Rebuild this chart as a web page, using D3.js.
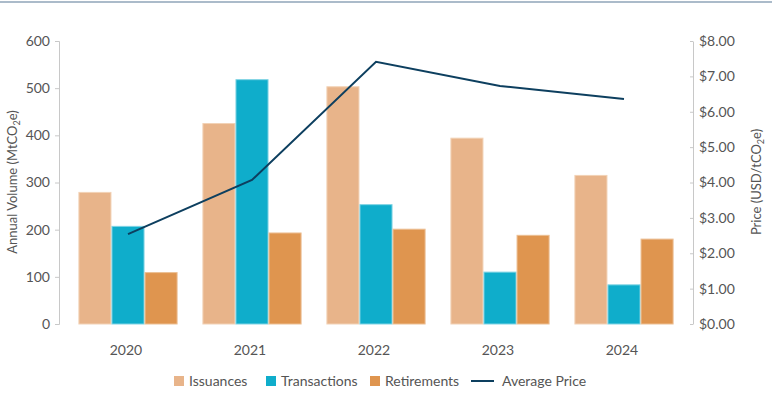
<!DOCTYPE html>
<html>
<head>
<meta charset="utf-8">
<script src="https://cdn.jsdelivr.net/npm/d3@7"></script>
<style>
  body { margin: 0; background: #fff; }
  text { font-family: "Lato", "Open Sans", sans-serif; fill: #555; }
</style>
</head>
<body>
<script>
// data
var years = ["2020", "2021", "2022", "2023", "2024"];
var issuances = [279, 425, 503, 394, 315];
var transactions = [207, 518, 253, 110, 83];
var retirements = [109, 193, 201, 188, 180];
var avgPrice = [2.54, 4.07, 7.41, 6.73, 6.36];

var volumeTicks = [0, 100, 200, 300, 400, 500, 600];
var priceTicks = [0, 1, 2, 3, 4, 5, 6, 7, 8];

var seriesNames = ["Issuances", "Transactions", "Retirements"];
var seriesColors = ["#e8b48a", "#0fadcb", "#df954f"];
var seriesStroke = ["#f2d2b6", "#7fd3e4", "#ecbf94"];
var lineColor = "#0d3f5f";

var W = 772, H = 405;

var svg = d3.select("body").append("svg")
    .attr("width", W)
    .attr("height", H);

// top rule
svg.append("line")
    .attr("x1", 0).attr("x2", W)
    .attr("y1", 2).attr("y2", 2)
    .attr("stroke", "#8fa5b8").attr("stroke-width", 1.5);

var x0 = d3.scaleBand().domain(years).range([66, 686]).paddingInner(0.2).paddingOuter(0.1);
var x1 = d3.scaleBand().domain(seriesNames).range([0, x0.bandwidth()]);
var yL = d3.scaleLinear().domain([0, 600]).range([324, 41]);
var yR = d3.scaleLinear().domain([0, 8]).range([324, 41]);

// left axis
var axL = svg.append("g")
    .attr("transform", "translate(59,0)")
    .call(d3.axisLeft(yL).tickValues(volumeTicks).tickSize(4).tickPadding(5));
axL.selectAll("path, line").attr("stroke", "#c8c8c8");
axL.selectAll("text").style("font-size", "14px").attr("fill", "#555");

// right axis
var axR = svg.append("g")
    .attr("transform", "translate(693,0)")
    .call(d3.axisRight(yR).tickValues(priceTicks).tickFormat(d3.format("$.2f")).tickSize(0).tickPadding(6));
axR.selectAll("path").attr("stroke", "#c8c8c8");
axR.selectAll(".tick").append("line")
    .attr("x1", -3).attr("x2", 0).attr("stroke", "#c8c8c8");
axR.selectAll("text").style("font-size", "14px").attr("fill", "#555");

// bars
var table = years.map(function(y, i) {
    return { year: y, values: [issuances[i], transactions[i], retirements[i]] };
});

var groups = svg.selectAll("g.grp")
    .data(table)
    .enter().append("g")
    .attr("class", "grp")
    .attr("transform", function(d) { return "translate(" + x0(d.year) + ",0)"; });

groups.selectAll("rect")
    .data(function(d) { return d.values.map(function(v, k) { return { k: k, v: v }; }); })
    .enter().append("rect")
    .attr("x", function(d) { return x1(seriesNames[d.k]) + 0.5; })
    .attr("y", function(d) { return yL(d.v); })
    .attr("width", x1.bandwidth() - 1)
    .attr("height", function(d) { return yL(0) - yL(d.v); })
    .attr("fill", function(d) { return seriesColors[d.k]; })
    .attr("stroke", function(d) { return seriesStroke[d.k]; })
    .attr("stroke-width", 1);

// year labels
svg.selectAll("text.year")
    .data(years)
    .enter().append("text")
    .attr("class", "year")
    .attr("x", function(d) { return x0(d) + x0.bandwidth() / 2 - 2; })
    .attr("y", 355)
    .attr("text-anchor", "middle")
    .style("font-size", "14px")
    .text(function(d) { return d; });

// price line
var line = d3.line()
    .x(function(d, i) { return x0(years[i]) + x0.bandwidth() / 2; })
    .y(function(d) { return yR(d); });

svg.append("path")
    .datum(avgPrice)
    .attr("d", line)
    .attr("fill", "none")
    .attr("stroke", lineColor)
    .attr("stroke-width", 2);

// axis titles
var tl = svg.append("text")
    .attr("transform", "translate(17,182) rotate(-90)")
    .attr("text-anchor", "middle")
    .style("font-size", "13px");
tl.append("tspan").text("Annual Volume (MtCO");
tl.append("tspan").attr("dy", 3).style("font-size", "9px").text("2");
tl.append("tspan").attr("dy", -3).text("e)");

var tr = svg.append("text")
    .attr("transform", "translate(761,182) rotate(-90)")
    .attr("text-anchor", "middle")
    .style("font-size", "13px");
tr.append("tspan").text("Price (USD/tCO");
tr.append("tspan").attr("dy", 3).style("font-size", "9px").text("2");
tr.append("tspan").attr("dy", -3).text("e)");

// legend
var legX = [174, 266, 370];
seriesNames.forEach(function(n, i) {
    svg.append("rect")
        .attr("x", legX[i]).attr("y", 376)
        .attr("width", 10).attr("height", 10)
        .attr("fill", seriesColors[i]);
    svg.append("text")
        .attr("x", legX[i] + 15).attr("y", 386)
        .style("font-size", "14px")
        .text(n);
});
svg.append("line")
    .attr("x1", 471).attr("x2", 494)
    .attr("y1", 381).attr("y2", 381)
    .attr("stroke", lineColor).attr("stroke-width", 2);
svg.append("text")
    .attr("x", 502).attr("y", 386)
    .style("font-size", "14px")
    .text("Average Price");
</script>
</body>
</html>
